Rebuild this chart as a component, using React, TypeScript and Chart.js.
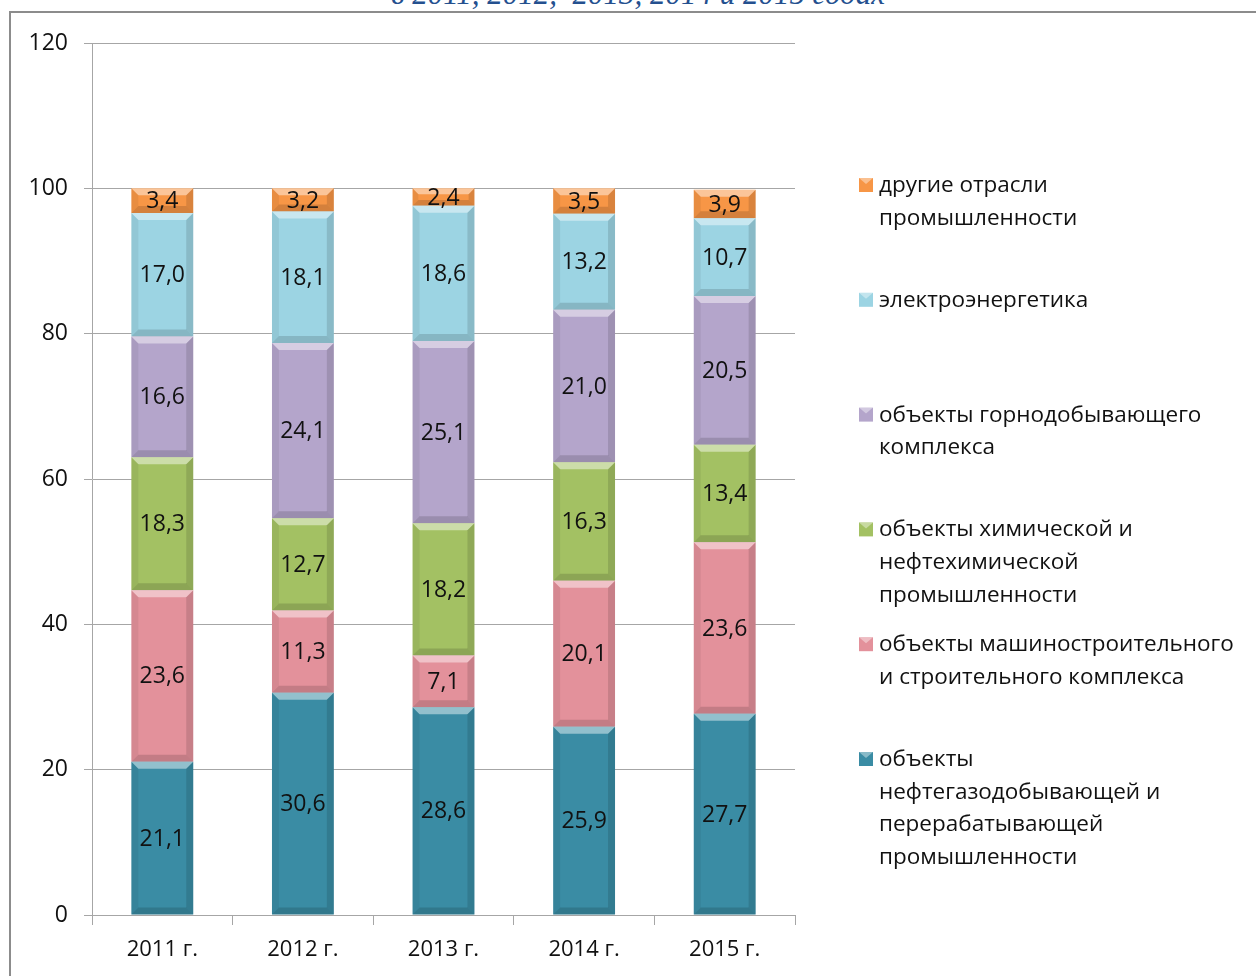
import React, { useEffect, useRef } from "react";
import { Chart, registerables } from "chart.js";

Chart.register(...registerables);

const categories = ["2011 г.", "2012 г.", "2013 г.", "2014 г.", "2015 г."];

const oilGas = [21.1, 30.6, 28.6, 25.9, 27.7];
const machinery = [23.6, 11.3, 7.1, 20.1, 23.6];
const chemical = [18.3, 12.7, 18.2, 16.3, 13.4];
const mining = [16.6, 24.1, 25.1, 21.0, 20.5];
const power = [17.0, 18.1, 18.6, 13.2, 10.7];
const other = [3.4, 3.2, 2.4, 3.5, 3.9];

const seriesNames = [
  ["объекты", "нефтегазодобывающей и", "перерабатывающей", "промышленности"],
  ["объекты машиностроительного", "и строительного комплекса"],
  ["объекты химической и", "нефтехимической", "промышленности"],
  ["объекты горнодобывающего", "комплекса"],
  ["электроэнергетика"],
  ["другие отрасли", "промышленности"],
];

const seriesColors = ["#3a8ca4", "#e3919b", "#a3c163", "#b4a5cb", "#9cd4e3", "#f79646"];

const yTicks = [0, 20, 40, 60, 80, 100, 120];

const FONT = "'Open Sans', 'DejaVu Sans', sans-serif";

const bevelPlugin = {
  id: "bevel",
  afterDatasetsDraw(chart: any) {
    const ctx = chart.ctx;
    chart.data.datasets.forEach((_: any, di: number) => {
      const meta = chart.getDatasetMeta(di);
      meta.data.forEach((el: any) => {
        const l = el.x - el.width / 2;
        const r = el.x + el.width / 2;
        const t = Math.min(el.y, el.base);
        const b = Math.max(el.y, el.base);
        const h = b - t;
        const s = Math.min(7, h / 3);
        ctx.save();
        ctx.fillStyle = "rgba(255,255,255,0.45)";
        ctx.beginPath();
        ctx.moveTo(l, t);
        ctx.lineTo(r, t);
        ctx.lineTo(r - s, t + s);
        ctx.lineTo(l + s, t + s);
        ctx.closePath();
        ctx.fill();
        ctx.fillStyle = "rgba(0,0,0,0.14)";
        ctx.beginPath();
        ctx.moveTo(l, b);
        ctx.lineTo(r, b);
        ctx.lineTo(r - s, b - s);
        ctx.lineTo(l + s, b - s);
        ctx.closePath();
        ctx.fill();
        ctx.fillStyle = "rgba(0,0,0,0.06)";
        ctx.beginPath();
        ctx.moveTo(l, t);
        ctx.lineTo(l + s, t + s);
        ctx.lineTo(l + s, b - s);
        ctx.lineTo(l, b);
        ctx.closePath();
        ctx.fill();
        ctx.fillStyle = "rgba(0,0,0,0.12)";
        ctx.beginPath();
        ctx.moveTo(r, t);
        ctx.lineTo(r - s, t + s);
        ctx.lineTo(r - s, b - s);
        ctx.lineTo(r, b);
        ctx.closePath();
        ctx.fill();
        ctx.restore();
      });
    });
  },
};

const labelPlugin = {
  id: "segLabels",
  afterDatasetsDraw(chart: any) {
    const ctx = chart.ctx;
    ctx.save();
    ctx.font = `23px ${FONT}`;
    ctx.fillStyle = "#111";
    ctx.textAlign = "center";
    ctx.textBaseline = "middle";
    chart.data.datasets.forEach((ds: any, di: number) => {
      const meta = chart.getDatasetMeta(di);
      meta.data.forEach((el: any, i: number) => {
        const v = ds.data[i];
        const cy = (el.y + el.base) / 2;
        ctx.fillText(v.toFixed(1).replace(".", ","), el.x, cy + 1);
      });
    });
    ctx.restore();
  },
};

const legendPlugin = {
  id: "sideLegend",
  afterDraw(chart: any) {
    const ctx = chart.ctx;
    const x0 = chart.chartArea.right + 64;
    const firstBaseline = 192;
    const step = 114.8;
    const lineH = 32.7;
    const n = chart.data.datasets.length;
    ctx.save();
    ctx.font = `22.5px ${FONT}`;
    ctx.textAlign = "left";
    ctx.textBaseline = "alphabetic";
    for (let k = 0; k < n; k++) {
      const di = n - 1 - k;
      const ds = chart.data.datasets[di];
      const baseY = firstBaseline + k * step;
      const mx = x0;
      const my = baseY - 14;
      ctx.fillStyle = ds.backgroundColor;
      ctx.fillRect(mx, my, 14, 14);
      ctx.fillStyle = "rgba(255,255,255,0.4)";
      ctx.beginPath();
      ctx.moveTo(mx, my);
      ctx.lineTo(mx + 14, my);
      ctx.lineTo(mx + 7, my + 6);
      ctx.closePath();
      ctx.fill();
      ctx.fillStyle = "#111";
      ds.legendLines.forEach((line: string, j: number) => {
        ctx.fillText(line, x0 + 20, baseY + j * lineH);
      });
    }
    ctx.restore();
  },
};

export default function App() {
  const ref = useRef<HTMLCanvasElement | null>(null);

  useEffect(() => {
    if (!ref.current) return;
    const all = [oilGas, machinery, chemical, mining, power, other];
    const chart = new Chart(ref.current, {
      type: "bar",
      data: {
        labels: categories,
        datasets: all.map((d, i) => ({
          label: seriesNames[i].join(" "),
          legendLines: seriesNames[i],
          data: d,
          backgroundColor: seriesColors[i],
          borderWidth: 0,
          barPercentage: 0.44,
          categoryPercentage: 1,
        })) as any,
      },
      options: {
        animation: false,
        responsive: false,
        maintainAspectRatio: false,
        layout: { padding: { top: 43, right: 461, left: 0, bottom: 0 } },
        plugins: {
          legend: { display: false },
          tooltip: { enabled: false },
          title: { display: false },
        },
        scales: {
          x: {
            stacked: true,
            grid: {
              display: true,
              drawOnChartArea: false,
              offset: true,
              tickLength: 10,
              color: "#a6a6a6",
            },
            border: { display: true, color: "#a6a6a6" },
            ticks: {
              color: "#111",
              font: { family: FONT, size: 22 },
              padding: 12,
            },
            afterFit: (s: any) => {
              s.height = 61;
            },
          },
          y: {
            stacked: true,
            min: 0,
            max: 120,
            afterBuildTicks: (s: any) => {
              s.ticks = yTicks.map((v) => ({ value: v }));
            },
            grid: {
              color: "#a6a6a6",
              tickLength: 8,
            },
            border: { display: true, color: "#a6a6a6" },
            ticks: {
              color: "#111",
              font: { family: FONT, size: 23 },
              padding: 16,
            },
            afterFit: (s: any) => {
              s.width = 92;
            },
          },
        },
      },
      plugins: [bevelPlugin, labelPlugin, legendPlugin],
    });
    return () => chart.destroy();
  }, []);

  return (
    <div
      style={{
        position: "fixed",
        left: 0,
        top: 0,
        width: 1256,
        height: 976,
        background: "#fff",
        overflow: "hidden",
      }}
    >
      <div
        style={{
          position: "absolute",
          left: 0,
          width: 1276,
          top: -24,
          textAlign: "center",
          fontFamily: "'Liberation Serif', 'DejaVu Serif', serif",
          fontStyle: "italic",
          fontSize: 31,
          lineHeight: "36px",
          color: "#24508f",
          whiteSpace: "pre",
        }}
      >
        {"в 2011, 2012,  2013, 2014 и 2015 годах"}
      </div>
      <div
        style={{
          position: "absolute",
          left: 9,
          top: 11,
          width: 1260,
          height: 1000,
          borderLeft: "2px solid #8c8c8c",
          borderTop: "2px solid #8c8c8c",
          boxSizing: "border-box",
        }}
      />
      <canvas
        ref={ref}
        width={1256}
        height={976}
        style={{ position: "absolute", left: 0, top: 0, width: 1256, height: 976 }}
      />
    </div>
  );
}
